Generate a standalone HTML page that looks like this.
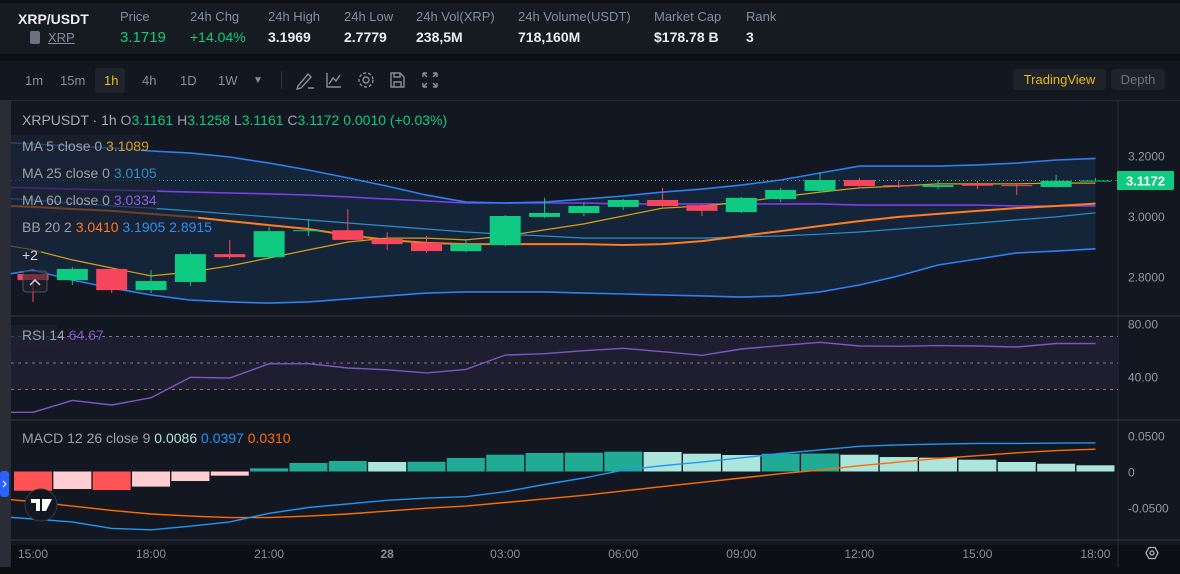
<!DOCTYPE html>
<html><head><meta charset="utf-8">
<style>
*{margin:0;padding:0;box-sizing:border-box}
body{width:1180px;height:574px;background:#0c0f14;font-family:"Liberation Sans",sans-serif;overflow:hidden;position:relative}
.hdr{position:absolute;left:0;top:3px;width:1180px;height:51px;background:#161a21}
.tb{position:absolute;left:0;top:61px;width:1180px;height:40px;background:#131720}
.t{position:absolute;white-space:nowrap}
.lab{font-size:13px;color:#848e9c;top:9px}
.val{font-size:14px;font-weight:bold;color:#eaecef;top:29px}
.tf{font-size:13px;color:#848e9c;top:73px}
</style></head><body>
<div class="hdr"></div>
<div class="t" style="left:18px;top:11px;font-size:14px;font-weight:bold;color:#eaecef">XRP/USDT</div>
<div class="t" style="left:30px;top:31px;width:10px;height:13px;background:#6b7280;border-radius:2px"></div>
<div class="t" style="left:48px;top:30px;font-size:13px;color:#848e9c;text-decoration:underline">XRP</div>
<div class="t lab" style="left:120px">Price</div>
<div class="t val" style="left:120px;color:#0ecb81;font-weight:normal;font-size:15px">3.1719</div>
<div class="t lab" style="left:190px">24h Chg</div>
<div class="t val" style="left:190px;color:#0ecb81;font-weight:normal">+14.04%</div>
<div class="t lab" style="left:268px">24h High</div>
<div class="t val" style="left:268px">3.1969</div>
<div class="t lab" style="left:344px">24h Low</div>
<div class="t val" style="left:344px">2.7779</div>
<div class="t lab" style="left:416px">24h Vol(XRP)</div>
<div class="t val" style="left:416px">238,5M</div>
<div class="t lab" style="left:518px">24h Volume(USDT)</div>
<div class="t val" style="left:518px">718,160M</div>
<div class="t lab" style="left:654px">Market Cap</div>
<div class="t val" style="left:654px">$178.78 B</div>
<div class="t lab" style="left:746px">Rank</div>
<div class="t val" style="left:746px">3</div>

<div class="tb"></div>
<div class="t tf" style="left:25px">1m</div>
<div class="t tf" style="left:60px">15m</div>
<div class="t" style="left:95px;top:68px;width:30px;height:25px;background:#1e232b;border-radius:3px"></div>
<div class="t tf" style="left:104px;color:#f0b90b">1h</div>
<div class="t tf" style="left:142px">4h</div>
<div class="t tf" style="left:180px">1D</div>
<div class="t tf" style="left:218px">1W</div>
<div class="t tf" style="left:253px;font-size:10px;top:75px">▼</div>
<div class="t" style="left:281px;top:71px;width:1px;height:18px;background:#2b3139"></div>
<svg class="t" style="left:290px;top:68px" width="160" height="24">
<g fill="none" stroke="#848e9c" stroke-width="1.4">
<path d="M8 18 L18 6 L21 9 L11 20 L7 21 Z M18 20 L24 20"/>
<path d="M37 5 V19 H51 M39 16 L43 10 L46 13 L50 7"/>
<circle cx="76" cy="12" r="3"/><circle cx="76" cy="12" r="7" stroke-dasharray="3 2"/>
<path d="M101 5 H110 L114 9 V19 H101 Z M104 5 V9 H110 V5 M104 19 V14 H111 V19"/>
<path d="M133 5 H137 M133 5 V9 M147 5 H143 M147 5 V9 M133 19 H137 M133 19 V15 M147 19 H143 M147 19 V15 M133 5 L137 9 M147 5 L143 9 M133 19 L137 15 M147 19 L143 15"/>
</g></svg>
<div class="t" style="left:1013px;top:69px;width:93px;height:21px;background:#1e222b;border-radius:4px;color:#f0b90b;font-size:13px;text-align:center;line-height:21px">TradingView</div>
<div class="t" style="left:1111px;top:69px;width:54px;height:21px;background:#1e222b;border-radius:4px;color:#6b7280;font-size:13px;text-align:center;line-height:21px">Depth</div>

<svg id="chart" class="t" style="left:0;top:100px" width="1180" height="474"></svg>

<script>
const candleOpen=[2.808,2.788,2.825,2.755,2.782,2.874,2.864,2.950,2.953,2.924,2.911,2.884,2.904,2.997,3.010,3.030,3.053,3.036,3.013,3.056,3.083,3.119,3.102,3.096,3.106,3.102,3.096,3.1161];
const candleClose=[2.788,2.825,2.755,2.785,2.874,2.864,2.950,2.953,2.921,2.907,2.884,2.907,3.000,3.010,3.033,3.053,3.033,3.017,3.060,3.086,3.119,3.099,3.099,3.102,3.100,3.099,3.116,3.1172];
const candleHigh=[2.808,2.831,2.825,2.821,2.881,2.921,2.964,2.990,3.023,2.947,2.934,2.924,3.003,3.060,3.043,3.056,3.093,3.040,3.063,3.093,3.145,3.126,3.119,3.119,3.116,3.109,3.136,3.1258];
const candleLow=[2.716,2.772,2.745,2.745,2.769,2.858,2.858,2.934,2.920,2.888,2.878,2.880,2.900,2.993,3.000,3.020,3.030,3.000,3.010,3.046,3.080,3.096,3.093,3.089,3.089,3.069,3.093,3.1161];
// line series start at index -1
const bbUpper=[3.245,3.238,3.231,3.225,3.215,3.208,3.195,3.175,3.152,3.126,3.099,3.069,3.046,3.043,3.046,3.056,3.066,3.079,3.089,3.102,3.119,3.142,3.165,3.165,3.165,3.169,3.175,3.185,3.1905];
const bbLower=[2.800,2.821,2.788,2.762,2.739,2.722,2.716,2.712,2.716,2.726,2.736,2.745,2.749,2.749,2.749,2.745,2.742,2.739,2.736,2.732,2.736,2.749,2.772,2.802,2.838,2.858,2.878,2.884,2.8915];
const bbMid=[3.035,3.030,3.023,3.017,3.007,2.997,2.983,2.970,2.957,2.937,2.921,2.911,2.907,2.907,2.907,2.907,2.904,2.907,2.917,2.934,2.950,2.967,2.983,2.997,3.007,3.017,3.026,3.033,3.041];
const ma25=[3.060,3.053,3.043,3.033,3.026,3.017,3.007,2.997,2.987,2.977,2.967,2.957,2.947,2.940,2.934,2.927,2.927,2.927,2.927,2.931,2.934,2.940,2.947,2.957,2.967,2.977,2.987,2.997,3.0105];
const ma60=[3.096,3.093,3.089,3.086,3.083,3.079,3.076,3.073,3.069,3.063,3.056,3.050,3.043,3.043,3.043,3.043,3.040,3.040,3.040,3.040,3.040,3.040,3.036,3.036,3.036,3.036,3.033,3.033,3.0334];
const ma5=[2.910,2.888,2.855,2.828,2.802,2.815,2.835,2.861,2.888,2.914,2.927,2.927,2.921,2.934,2.954,2.974,3.000,3.026,3.033,3.046,3.063,3.079,3.093,3.099,3.106,3.106,3.106,3.109,3.1089];
const rsi=[12.8,12.8,21.8,18.3,23.8,39.2,38.7,49.5,49.5,46.2,44.9,42.5,45.2,56.0,57.0,59.3,61.1,58.5,55.8,60.6,63.1,65.6,62.8,62.6,63.1,62.8,62.1,64.7,64.67];
const macdHist=[-0.0267,-0.0243,-0.0257,-0.021,-0.0132,-0.0058,0.0044,0.0118,0.0146,0.0132,0.0135,0.0188,0.0233,0.0257,0.0261,0.0275,0.0271,0.0247,0.0229,0.0247,0.025,0.0233,0.0201,0.0192,0.0164,0.0132,0.0108,0.0086];
const macdLine=[-0.062,-0.066,-0.070,-0.079,-0.081,-0.076,-0.070,-0.058,-0.050,-0.045,-0.040,-0.037,-0.035,-0.028,-0.018,-0.009,0.002,0.008,0.013,0.019,0.025,0.030,0.035,0.037,0.038,0.039,0.039,0.0395,0.0397];
const macdSignal=[-0.037,-0.042,-0.048,-0.054,-0.059,-0.062,-0.064,-0.064,-0.062,-0.059,-0.055,-0.051,-0.048,-0.043,-0.038,-0.033,-0.027,-0.021,-0.015,-0.009,-0.003,0.002,0.008,0.013,0.018,0.022,0.026,0.029,0.031];
const timeLabels=["15:00","18:00","21:00","28","03:00","06:00","09:00","12:00","15:00","18:00"];
const priceTicks=[3.2,3.0,2.8];
const rsiTicks=[80,40];
const macdTicks=[0.05,0,-0.05];
const lastPrice=3.1172;

const NS="http://www.w3.org/2000/svg";
const svg=document.getElementById('chart');
const OY=100; // svg offset
function X(i){return 33+39.35*i;}
function PY(p){return 216-(p-3)*302.5-OY;}
function RY(v){return 363-(v-50)*1.325-OY;}
function MY(v){return 471.5-v*720-OY;}
function el(tag,attrs,parent){const e=document.createElementNS(NS,tag);for(const k in attrs)e.setAttribute(k,attrs[k]);(parent||svg).appendChild(e);return e;}
function fmt(v){return v.toFixed(4);}

// backgrounds
let r=el('rect',{x:11,y:0,width:1169,height:445,fill:'#131722'});

r=el('rect',{x:0,y:0,width:11,height:474,fill:'#2a2d35'});

const seps=[[0,1180,0],[11,1180,216],[11,1180,320],[11,1180,440]];
seps.forEach(s=>{const l=el('line',{x1:s[0],x2:s[1],y1:s[2],y2:s[2],stroke:'#2a2e39','stroke-width':1.5});});
let ax=el('line',{x1:1118,x2:1118,y1:0,y2:474,stroke:'#2a2e39'});


const defs=el('defs',{});
const cp=el('clipPath',{id:'clipMain'},defs);el('rect',{x:11,y:0,width:1107,height:216},cp);
const cp2=el('clipPath',{id:'clipRsi'},defs);el('rect',{x:11,y:216,width:1107,height:104},cp2);
const cp3=el('clipPath',{id:'clipMacd'},defs);el('rect',{x:11,y:320,width:1107,height:120},cp3);
const gMain=el('g',{'clip-path':'url(#clipMain)'});

const gRsi=el('g',{'clip-path':'url(#clipRsi)'});

const gMacd=el('g',{'clip-path':'url(#clipMacd)'});


function pts(arr,fy){return arr.map((v,k)=>X(k-1).toFixed(1)+','+fy(v).toFixed(1));}
// BB fill
let fillPts=pts(bbUpper,PY).concat(pts(bbLower,PY).reverse());
let bf=el('polygon',{points:fillPts.join(' '),fill:'#15273d','fill-opacity':0.85},gMain);

function line(arr,fy,color,w,g,name){const p=el('polyline',{points:pts(arr,fy).join(' '),fill:'none',stroke:color,'stroke-width':w,'stroke-linejoin':'round'},g);return p;}
line(ma25,PY,'#2b8fc8',1.2,gMain,'ma25-line');
line(ma60,PY,'#7c3fe4',1.6,gMain,'ma60-line');
line(bbMid,PY,'#ff7c1f',2,gMain,'bollinger-middle-line');
line(bbUpper,PY,'#2f7ff0',1.6,gMain,'bollinger-upper-line');
line(bbLower,PY,'#2f7ff0',1.6,gMain,'bollinger-lower-line');
line(ma5,PY,'#d4a017',1.2,gMain,'ma5-line');
// last price dotted
let lp=el('line',{x1:11,x2:1118,y1:PY(lastPrice),y2:PY(lastPrice),stroke:'#26a69a','stroke-dasharray':'1 3','stroke-width':1},gMain);

// candles
for(let i=0;i<candleOpen.length;i++){
  const o=candleOpen[i],c=candleClose[i],up=c>=o,col=up?'#0ecb81':'#f6465d';
  const g=el('g',{},gMain);
  
  
  el('line',{x1:X(i),x2:X(i),y1:PY(candleHigh[i]),y2:PY(candleLow[i]),stroke:col,'stroke-width':1},g);
  const top=PY(Math.max(o,c)),bot=PY(Math.min(o,c));
  el('rect',{x:X(i)-15.5,y:top,width:31,height:Math.max(1,bot-top),fill:col},g);
}
// RSI
let rb=el('rect',{x:11,y:RY(70),width:1107,height:RY(30)-RY(70),fill:'#1f1e31'},gRsi);

[70,50,30].forEach(v=>{const l=el('line',{x1:11,x2:1118,y1:RY(v),y2:RY(v),stroke:'#787b86','stroke-dasharray':'3 4','stroke-width':1},gRsi);});
line(rsi,RY,'#7e57c2',1.4,gRsi,'rsi-line');
// MACD
for(let i=0;i<macdHist.length;i++){
  const v=macdHist[i],prev=i>0?macdHist[i-1]:v-0.001;
  let col;
  if(v>=0)col=v>=prev?'#22ab94':'#ace5dc';else col=v<prev?'#ff5252':'#ffcdd2';
  if(i===0)col='#ff5252';
  const y0=MY(0),y1=MY(v);
  const b=el('rect',{x:X(i)-19,y:Math.min(y0,y1),width:38,height:Math.abs(y1-y0),fill:col},gMacd);
  
  
}
line(macdSignal,MY,'#ff6d00',1.4,gMacd,'macd-signal-line');
line(macdLine,MY,'#2196f3',1.4,gMacd,'macd-line');

// axis labels
function txt(x,y,s,attrs,name,inter){const t=el('text',Object.assign({x:x,y:y,'font-size':12,fill:'#9598a1','font-family':'Liberation Sans, sans-serif'},attrs||{}));t.textContent=s;return t;}
priceTicks.forEach(p=>txt(1128,PY(p)+5,p.toFixed(4),{},'price-tick-label'));
rsiTicks.forEach(v=>txt(1128,RY(v)+5,v.toFixed(2),{},'rsi-tick-label'));
macdTicks.forEach(v=>txt(1128,MY(v)+5,v===0?'0':v.toFixed(4),{},'macd-tick-label'));
timeLabels.forEach((s,k)=>txt(X(k*3),458,s,{'text-anchor':'middle',fill:'#8a8d96','font-weight':s==='28'?'bold':'normal'},'time-axis-label'));
// last price tag
let tag=el('rect',{x:1117,y:PY(lastPrice)-9.5,width:57,height:19,fill:'#0ecb81',rx:1});

txt(1145.5,PY(lastPrice)+5,lastPrice.toFixed(4),{'text-anchor':'middle',fill:'#ffffff','font-weight':'bold','font-size':13},'last-price-value');

// legends
function box(x,y,w,h,name){const b=el('rect',{x:x,y:y,width:w,height:h,fill:'#1c2231','fill-opacity':0.65});}
function leg(x,y,parts,name){const t=el('text',{x:x,y:y,'font-size':14,'font-family':'Liberation Sans, sans-serif'});parts.forEach(p=>{const s=el('tspan',{fill:p[1]},t);s.textContent=p[0];});}
const G='#0ecb81',L='#9ba0ab';
leg(22,25,[['XRPUSDT · 1h  ','#a6abb5'],['O',L],['3.1161 ',G],['H',L],['3.1258 ',G],['L',L],['3.1161 ',G],['C',L],['3.1172 ',G],['0.0010 (+0.03%)',G]],'ohlc-legend');
box(11,35,130,24,'ma5-legend-bg');box(11,60,146,26,'ma25-legend-bg');box(11,86,146,27,'ma60-legend-bg');box(11,113,187,27,'bb-legend-bg');box(11,140,30,28,'more-legend-bg');
leg(22,51,[['MA 5 close 0  ',L],['3.1089','#d4a017']],'ma5-legend');
leg(22,78,[['MA 25 close 0  ',L],['3.0105','#2b8fc8']],'ma25-legend');
leg(22,105,[['MA 60 close 0  ',L],['3.0334','#8c5be8']],'ma60-legend');
leg(22,132,[['BB 20 2  ',L],['3.0410  ','#ff7c1f'],['3.1905  ','#2f8ff0'],['2.8915','#2f8ff0']],'bb-legend');
leg(22,160,[['+2','#d1d4dc']],'more-indicators');
let cb=el('rect',{x:23,y:171,width:24,height:21,rx:3,fill:'#1e222d','fill-opacity':0.6,stroke:'#50535e'});

el('path',{d:'M30 185 L35 180 L40 185',fill:'none',stroke:'#d1d4dc','stroke-width':1.5});
box(11,225,46,22,'rsi-legend-bg');
leg(22,240,[['RSI 14  ',L],['64.67','#7e57c2']],'rsi-legend');
leg(22,343,[['MACD 12 26 close 9  ',L],['0.0086  ','#ace5dc'],['0.0397  ','#2196f3'],['0.0310','#ff6d00']],'macd-legend');
// tv logo & tab
let tab=el('rect',{x:0,y:371,width:9,height:26,rx:3,fill:'#2962ff'});

el('path',{d:'M3 381 L6 384 L3 387',fill:'none',stroke:'#fff','stroke-width':1});
let logo=el('circle',{cx:41,cy:405,r:16,fill:'#131722',stroke:'#363a45'});

el('path',{d:'M31 399 H40 V411 H36 V403 H31 Z M42 399 H52 L46 411 H42 Z',fill:'#fff'});
// settings hex
let hx=el('polygon',{points:'1146,453 1149,447.5 1155,447.5 1158,453 1155,458.5 1149,458.5',fill:'none',stroke:'#b2b5be','stroke-width':1.3});

el('circle',{cx:1152,cy:453,r:2,fill:'none',stroke:'#b2b5be','stroke-width':1.3});
let bot=el('rect',{x:0,y:467,width:1180,height:7,fill:'#0c0f14'});

</script>
</body></html>
